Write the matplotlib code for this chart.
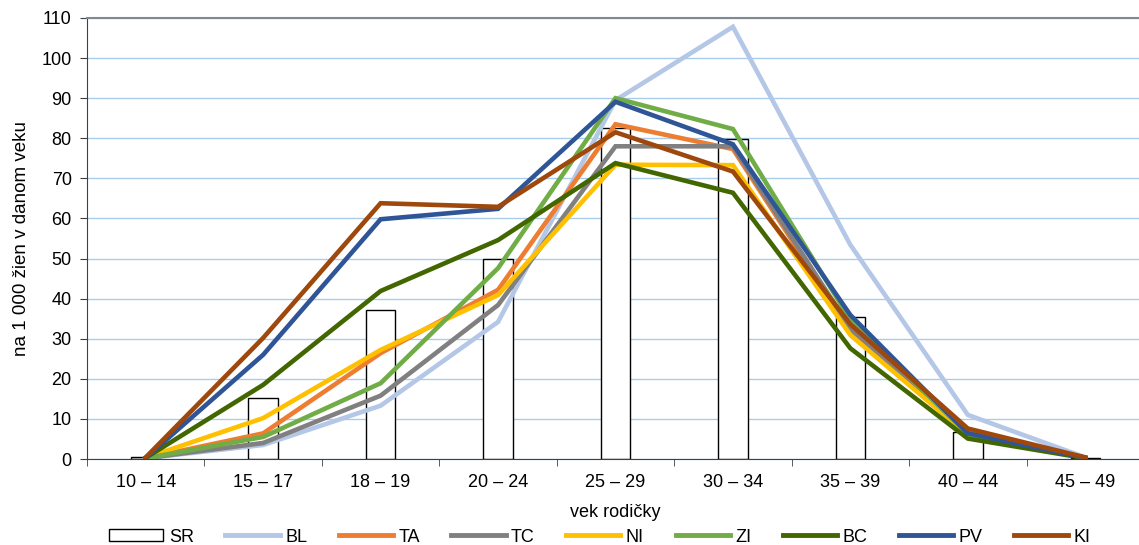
import numpy as np
import matplotlib
matplotlib.use('Agg')
import matplotlib.pyplot as plt
from matplotlib.patches import Patch
from matplotlib.lines import Line2D

plt.rcParams['font.family'] = ['Liberation Sans', 'DejaVu Sans']

vek = ['10 – 14', '15 – 17', '18 – 19', '20 – 24', '25 – 29',
       '30 – 34', '35 – 39', '40 – 44', '45 – 49']

# SR as bars
sr = [0.4, 15.3, 37.2, 49.8, 82.6, 79.8, 35.5, 6.8, 0.3]

# regions as lines
bl = [0.2, 3.5, 13.3, 34.2, 89.5, 107.8, 53.4, 11.0, 0.4]
ta = [0.2, 6.4, 26.4, 42.2, 83.5, 77.3, 32.0, 6.5, 0.3]
tc = [0.2, 4.0, 15.8, 38.4, 78.0, 78.0, 32.6, 6.4, 0.3]
ni = [0.3, 10.2, 27.2, 40.9, 73.4, 73.3, 30.9, 6.0, 0.3]
zi = [0.2, 5.5, 18.9, 47.6, 90.0, 82.3, 34.7, 6.2, 0.3]
bc = [0.3, 18.5, 41.9, 54.6, 73.8, 66.4, 27.6, 5.1, 0.2]
pv = [0.3, 26.0, 59.8, 62.4, 89.1, 78.5, 35.9, 6.4, 0.3]
ki = [0.4, 30.2, 63.8, 62.9, 81.5, 71.7, 33.6, 7.6, 0.4]

series = [('BL', bl, '#B4C7E7'), ('TA', ta, '#ED7D31'), ('TC', tc, '#808080'),
          ('NI', ni, '#FFC000'), ('ZI', zi, '#70AD47'), ('BC', bc, '#426600'),
          ('PV', pv, '#2F5597'), ('KI', ki, '#9E480E')]

fig = plt.figure(figsize=(11.39, 5.45), dpi=100)
ax = fig.add_axes([87/1139, 1 - 459/545, (1144 - 87)/1139, (459 - 18)/545])

x = np.arange(len(vek))
ax.bar(x, sr, width=0.25, color='white', edgecolor='black', linewidth=1, zorder=2)
for name, vals, col in series:
    ax.plot(x, vals, color=col, linewidth=3.3, zorder=3, solid_joinstyle='miter')

ax.set_xlim(-0.5, len(vek) - 0.5)
ax.set_ylim(0, 110)
ax.set_yticks(np.arange(0, 111, 10))
ax.yaxis.grid(True, color='#A9CCEB', linewidth=1)
ax.set_axisbelow(True)

ax.set_xticks(x)
ax.set_xticklabels(vek, fontsize=13)
ax.set_xticks(np.arange(-0.5, len(vek), 1), minor=True)
ax.tick_params(axis='x', which='major', length=0, pad=11)
ax.tick_params(axis='x', which='minor', length=5, color='#404040')
ax.tick_params(axis='y', length=5, labelsize=13, color='#404040', pad=6)

for s in ['left', 'bottom']:
    ax.spines[s].set_color('#404040')
ax.spines['top'].set_color('#7F8A93')
ax.spines['top'].set_linewidth(1.5)
ax.spines['right'].set_visible(False)

ax.set_xlabel('vek rodičky', fontsize=13, labelpad=9)
ax.set_ylabel('na 1 000 žien v danom veku', fontsize=13.5, labelpad=8)

handles = [Patch(facecolor='white', edgecolor='black', linewidth=1)]
labels = ['SR']
for name, vals, col in series:
    handles.append(Line2D([0], [0], color=col, linewidth=3.5))
    labels.append(name)
fig.legend(handles, labels, loc='center', bbox_to_anchor=(600/1139, 1 - 537/545),
           ncol=9, frameon=False, fontsize=13, handlelength=3.0, handleheight=0.6,
           columnspacing=1.75, handletextpad=0.3)

fig.savefig('out.png', dpi=100)
